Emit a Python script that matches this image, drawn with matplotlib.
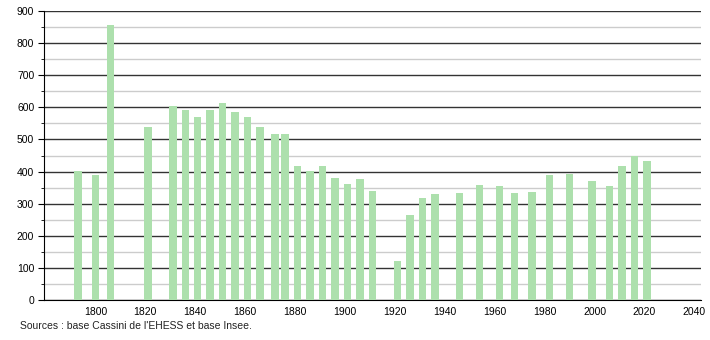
import matplotlib
matplotlib.use('Agg')
import matplotlib.pyplot as plt
from matplotlib.ticker import MultipleLocator

plt.rcParams['font.family'] = ['Liberation Sans', 'DejaVu Sans']

years = [1793, 1800, 1806, 1821, 1831, 1836, 1841, 1846, 1851, 1856,
         1861, 1866, 1872, 1876, 1881, 1886, 1891, 1896, 1901, 1906,
         1911, 1921, 1926, 1931, 1936, 1946, 1954, 1962, 1968, 1975,
         1982, 1990, 1999, 2006, 2011, 2016, 2021]
population = [402, 390, 855, 538, 604, 592, 569, 592, 612, 585,
              569, 538, 516, 516, 417, 401, 417, 379, 361, 376,
              341, 121, 264, 317, 330, 333, 358, 354, 333, 336,
              389, 391, 370, 355, 418, 449, 433]
xticks = [1800, 1820, 1840, 1860, 1880, 1900, 1920, 1940, 1960, 1980, 2000, 2020, 2040]
source = "Sources : base Cassini de l'EHESS et base Insee."

fig = plt.figure(figsize=(7.1, 3.4), dpi=100)
ax = fig.add_axes([0.062, 0.1176, 0.9254, 0.85])

ax.bar(years, population, width=3.0, color='#ade0ad', zorder=3)

ax.set_xlim(1779.4, 2042.7)
ax.set_ylim(0, 900)
ax.yaxis.set_major_locator(MultipleLocator(100))
ax.yaxis.set_minor_locator(MultipleLocator(50))
ax.set_xticks(xticks)

ax.grid(axis='y', which='major', color='#333333', linewidth=1.0, zorder=1)
ax.grid(axis='y', which='minor', color='#cccccc', linewidth=1.0, zorder=1)
ax.set_axisbelow(True)

for s in ['top', 'right']:
    ax.spines[s].set_visible(False)
ax.spines['left'].set_color('black')
ax.spines['bottom'].set_color('black')

ax.tick_params(axis='x', length=0, labelsize=7.5, pad=5)
ax.tick_params(axis='y', which='major', length=4, labelsize=7.5, pad=3)
ax.tick_params(axis='y', which='minor', length=2)

fig.text(0.028, 0.032, source, fontsize=7.5, color='#222222')

fig.savefig('out.png', dpi=100)
